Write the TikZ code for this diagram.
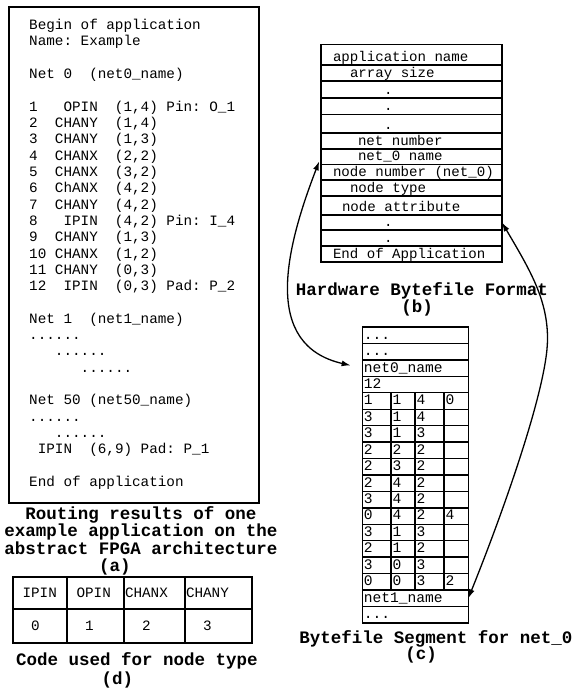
\documentclass[tikz,border=0pt]{standalone}
\usepackage{fontspec}
\setmonofont{Liberation Mono}
\usetikzlibrary{arrows.meta}
\newcommand\threedots{...}
\newcommand\fixsp{\spaceskip=0pt\xspaceskip=0pt\relax}
\tikzset{
  listframe/.style={draw, line width=1.8pt, inner sep=0pt, outer sep=0pt, anchor=north west},
  listing/.style={font=\ttfamily\frenchspacing\fontsize{14.3}{16.32}\selectfont, align=left, inner sep=0pt, anchor=base west, execute at begin node=\fixsp},
  rowbox/.style={draw, line width=1.6pt, inner sep=0pt, outer sep=0pt, anchor=north west, align=left, text width=181pt, text depth=3.7pt, font=\ttfamily\frenchspacing\fontsize{14.1}{16}\selectfont, execute at begin node=\fixsp},
  cellbox/.style={draw, line width=1.4pt, inner xsep=1.5pt, inner ysep=0pt, outer sep=0pt, anchor=north west, align=left, text height=12.14pt, text depth=4.3pt, font=\ttfamily\fontsize{14.6}{16}\selectfont, execute at begin node=\fixsp},
  codebox/.style={draw, line width=1.6pt, inner xsep=1pt, inner ysep=0pt, outer sep=0pt, anchor=north west, align=left, font=\ttfamily\fontsize{14.3}{16}\selectfont, execute at begin node=\fixsp},
  captext/.style={font=\ttfamily\bfseries\frenchspacing\fontsize{17.5}{17.4}\selectfont, align=center, inner sep=0pt, anchor=base, execute at begin node=\fixsp},
  link/.style={{Latex[length=9pt,width=6pt]}-{Latex[length=9pt,width=6pt]}, line width=1.3pt}
}
\begin{document}
\begin{tikzpicture}[x=1pt,y=-1pt]
\useasboundingbox (0,0) rectangle (574,689);
% (a) routing results
\node[listframe, minimum width=250pt, minimum height=496pt] (boxa) at (9,7) {};
\node[listing] (listing) at (29,486.5) {Begin of application\\
Name: Example\\
~\\
Net 0~~(net0\_name)\\
~\\
1~~~OPIN~~(1,4) Pin:~O\_1\\
2~~CHANY~~(1,4)\\
3~~CHANY~~(1,3)\\
4~~CHANX~~(2,2)\\
5~~CHANX~~(3,2)\\
6~~ChANX~~(4,2)\\
7~~CHANY~~(4,2)\\
8~~~IPIN~~(4,2) Pin:~I\_4\\
9~~CHANY~~(1,3)\\
10 CHANX~~(1,2)\\
11 CHANY~~(0,3)\\
12~~IPIN~~(0,3) Pad:~P\_2\\
~\\
Net 1~~(net1\_name)\\
......\\
~~~......\\
~~~~~~......\\
~\\
Net 50 (net50\_name)\\
......\\
~~~......\\
~IPIN~~(6,9) Pad:~P\_1\\
~\\
End of application};
\node[captext] (capa) at (141,554) {Routing results of one\\example application on the\\abstract FPGA architecture};
\node[captext] (laba) at (115,571) {(a)};

% (b) hardware bytefile format
\foreach [count=\i] \ya/\yb/\ind/\txt in {
  44.3/65/12/application name,
  65/81/29/array size,
  81/97.7/63/.,
  97.7/114.3/63/.,
  114.3/132.7/63/.,
  132.7/149/37/net number,
  149/164.3/37/net\_0 name,
  164.3/180/12/node number (net\_0),
  180/196/29/node type,
  196/215/21/node attribute,
  215/230/63/.,
  230/246/63/.,
  246/261.7/12/End of Application} {
  \pgfmathsetmacro\th{\yb-\ya-3.7}
  \node[rowbox, text height=\th pt] (b\i) at (321,\ya) {\hspace*{\ind pt}\txt};
}
\node[captext] (capb) at (422,295) {Hardware Bytefile Format};
\node[captext] (labb) at (417,312) {(b)};

% (c) bytefile segment
\foreach \i/\txt in {1/\threedots,2/\threedots,3/net0\_name,4/12,17/net1\_name,18/\threedots}
  \node[cellbox, text width=103pt] (c\i) at (362.3,{327+(\i-1)*16.44}) {\txt};
\foreach \i/\ca/\cb/\cc/\cd in {5/1/1/4/0,6/3/1/4/{},7/3/1/3/{},8/2/2/2/{},9/2/3/2/{},10/2/4/2/{},
    11/3/4/2/{},12/0/4/2/4,13/3/1/3/{},14/2/1/2/{},15/3/0/3/{},16/0/0/3/2}
  \foreach \cx/\cw/\ct [count=\j] in {362.3/25.7/\ca,391/21/\cb,415/26/\cc,444/21.3/\cd}
    \node[cellbox, text width=\cw pt] (c\i-\j) at (\cx,{327+(\i-1)*16.44}) {\ct};
\node[captext] (capc) at (436,643) {Bytefile Segment for net\_0};
\node[captext] (labc) at (421,659) {(c)};

% (d) node type codes
\foreach \cx/\cw/\ha/\va [count=\j] in {13/52/~IPIN/~~0,67/55/~OPIN/~~1,124/59/CHANX/~~2,185/65/CHANY/~~3} {
  \node[codebox, text width=\cw pt, minimum height=32pt] (dh\j) at (\cx,577) {\ha};
  \node[codebox, text width=\cw pt, minimum height=34pt] (dv\j) at (\cx,609) {\va};
}
\node[captext] (capd) at (137,665.7) {Code used for node type};
\node[captext] (labd) at (117.5,684) {(d)};

% links between (b) and (c)
\coordinate (bend) at (547.5,340);
\draw[link, shorten <=5pt, shorten >=12pt] (b7.west) .. controls (285,250) and (262,345) .. (c3.west);
\draw[link] (b11.east) .. controls (530,270) and (548,300) .. (bend) .. controls (547,390) and (500,520) .. (c17.east);
\end{tikzpicture}
\end{document}
